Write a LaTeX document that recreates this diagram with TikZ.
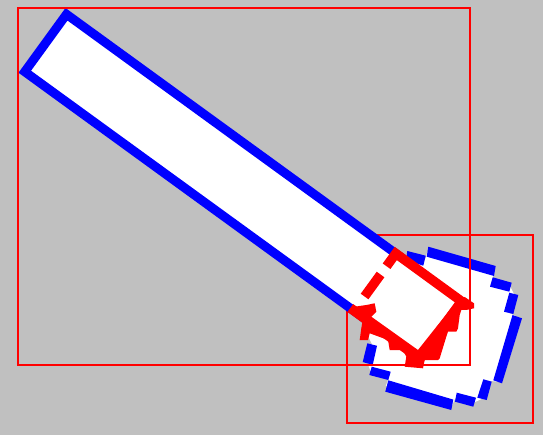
\documentclass[tikz,border=0pt]{standalone}
\definecolor{bg}{RGB}{192,192,192}
\tikzset{
  thinbox/.style={draw=red, line width=2pt},
  bluestroke/.style={draw=blue, line width=9pt, line join=miter},
  redstroke/.style={draw=red, line width=9.5pt, line join=miter},
  bluedash/.style={fill=blue},
  redfill/.style={fill=red},
  shapefill/.style={fill=white}
}
\begin{document}
\begin{tikzpicture}[x=1pt,y=-1pt]
\fill[bg] (0,0) rectangle (543,435);
\useasboundingbox (0,0) rectangle (543,435);
% corners of the long bar
\coordinate (T) at (66.5,14.29);
\coordinate (R) at (461.5,301.3);
\coordinate (B) at (419.8,358.7);
\coordinate (L) at (24.77,71.73);
% corners of the red end rectangle
\coordinate (Tr) at (395.8,253.5);
\coordinate (Lr) at (354.1,310.9);
\coordinate (P5) at (357.04,306.86);
\coordinate (P17) at (364.56,296.5);
\coordinate (P45) at (380.55,274.5);
\coordinate (P55) at (386.55,266.24);
% second bounding box
\draw[thinbox] (346.7,235) rectangle (533.3,422.7);
% long bar
\filldraw[shapefill, bluestroke] (T) -- (R) -- (B) -- (L) -- cycle;
% blocky shape fill
\fill[shapefill] (Tr) -- (406.7,255.5) -- (424.5,260.8) -- (427.5,251.7) -- (494.8,271) -- (491.3,282) -- (510.5,287.2) -- (513.8,293.8) -- (508.7,312.8) -- (517.2,316.7) -- (497.7,381.8) -- (487.5,380.5) -- (482,398.8) -- (474.7,402.2) -- (455.8,397.2) -- (452.3,404.8) -- (385.8,386) -- (389.5,375.8) -- (370.5,371) -- (367.7,363.5) -- (372.2,344.5) -- (369,338) -- (362,318) -- (Lr) -- cycle;
% blue dashes
\fill[bluedash] (407.3,251) -- (425.7,255.7) -- (423.3,265.7) -- (406,260) -- cycle;
\fill[bluedash] (428.3,246.7) -- (495.7,266) -- (494,276) -- (426.7,256.7) -- cycle;
\fill[bluedash] (492.7,277.3) -- (511.7,282.7) -- (509.3,291.7) -- (490,286.7) -- cycle;
\fill[bluedash] (509.3,292.7) -- (518.3,295) -- (513.3,314) -- (504,311.7) -- cycle;
\fill[bluedash] (512.5,315) -- (522,318.3) -- (502,383.3) -- (493.3,380.3) -- cycle;
\fill[bluedash] (483.3,379.3) -- (491.7,381.7) -- (486.7,400) -- (477.3,397.7) -- cycle;
\fill[bluedash] (456.7,392.7) -- (476,397.7) -- (473.3,406.7) -- (455,401.7) -- cycle;
\fill[bluedash] (388.3,380.3) -- (453.3,399.6) -- (451.3,410) -- (385.3,391.7) -- cycle;
\fill[bluedash] (371.7,366.7) -- (390.7,371.7) -- (388.3,380) -- (369.3,375) -- cycle;
\fill[bluedash] (367.3,343.3) -- (377,345.8) -- (372.7,365) -- (362.7,362) -- cycle;
% red dashed end rectangle
\draw[redstroke] (P55) -- (Tr) -- (R) -- (B) -- (Lr) -- (P5);
\draw[redstroke] (P17) -- (P45);
% red blocky fill
\fill[redfill] (351.3,310) -- (354.7,306.7) -- (366.3,305) -- (374.7,303.3) -- (376.3,311.7) -- (371.3,316.7) -- (418,350) -- (456.3,301.7) -- (464.7,297) -- (474,303.3) -- (474,308.3) -- (466.3,310) -- (461.3,310) -- (459.7,315) -- (458,328.3) -- (456.3,331.7) -- (448,331.7) -- (446.3,336.7) -- (439.7,358.3) -- (438,360) -- (424.7,360) -- (423,368.3) -- (404.7,366.7) -- (406.3,356.7) -- (403,350) -- (389.7,350) -- (388,340) -- (369.7,333.3) -- (368,340) -- (359.7,340) -- (361.3,328.3) -- (363,318.3) -- cycle;
% first bounding box
\draw[thinbox] (17.7,8.3) rectangle (469.5,365.3);
\end{tikzpicture}
\end{document}
